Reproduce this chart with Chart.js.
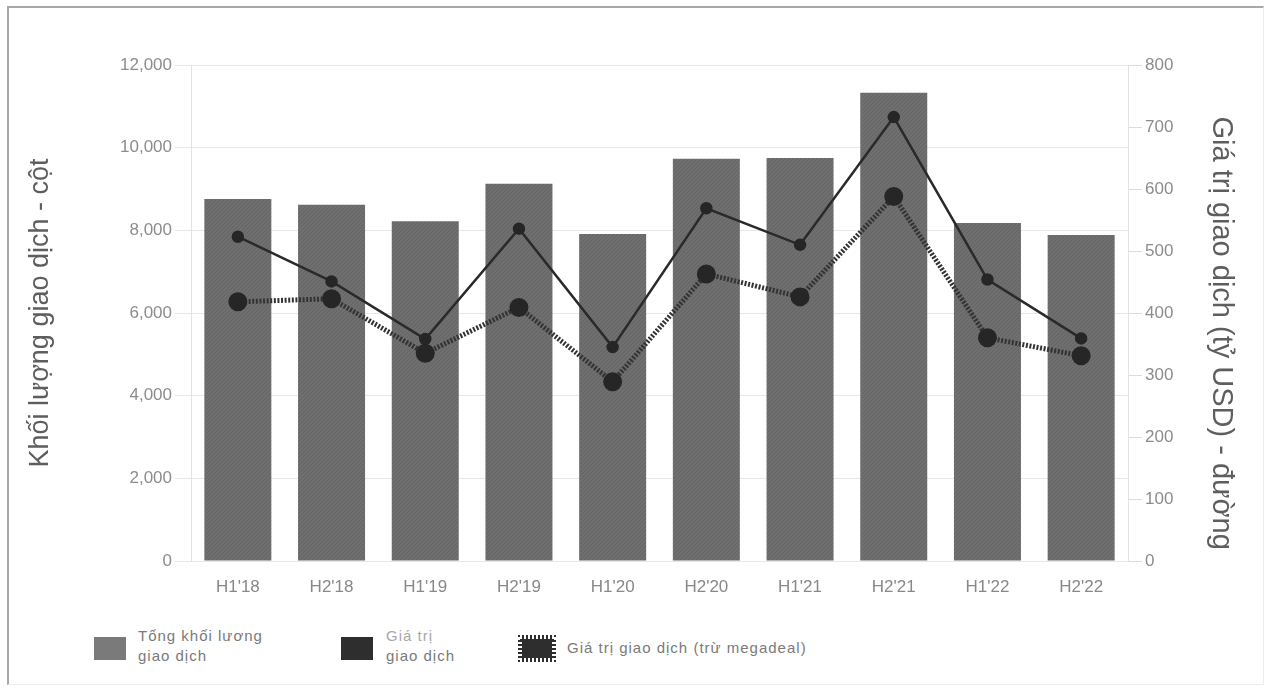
<!DOCTYPE html>
<html>
<head>
<meta charset="utf-8">
<script src="https://cdn.jsdelivr.net/npm/chart.js@4.4.1/dist/chart.umd.min.js"></script>
<style>
  html, body { margin: 0; padding: 0; background: #fff; }
  body { width: 1268px; height: 689px; position: relative; overflow: hidden; font-family: "Liberation Sans", Arial, sans-serif; }
  #frame { position: absolute; left: 7px; top: 6px; width: 1254px; height: 676px; border-left: 2px solid #a8a8a8; border-top: 2px solid #a8a8a8; border-right: 1px solid #eee; border-bottom: 1px solid #eee; }
  #wrap { position: absolute; left: 0; top: 0; width: 1268px; height: 600px; }
  .lg-box { position: absolute; top: 637px; width: 32px; height: 23px; }
  .lg-text { position: absolute; font-size: 15px; letter-spacing: 1px; line-height: 20px; color: #7a7a7a; }
</style>
</head>
<body>
<div id="frame"></div>
<div id="wrap"><canvas id="chart"></canvas></div>

<div class="lg-box" style="left:94px; background:#7a7a7a;"></div>
<div class="lg-text" style="left:138px; top:626px;">Tổng khối lương<br>giao dịch</div>
<div class="lg-box" style="left:341px; background:#2e2e2e;"></div>
<div class="lg-text" style="left:386px; top:626px;"><span style="color:#a8a8a8">Giá trị</span><br>giao dịch</div>
<div class="lg-box" style="left:520px; width:34px; background:#2e2e2e; border:2px dotted #fff; box-sizing:border-box; outline:2px dotted #2e2e2e;"></div>
<div class="lg-text" style="left:567px; top:638px;">Giá trị giao dịch (trừ megadeal)</div>

<script>
// Data
const periods = ["H1'18", "H2'18", "H1'19", "H2'19", "H1'20", "H2'20", "H1'21", "H2'21", "H1'22", "H2'22"];
const volume = [8760, 8620, 8220, 9130, 7910, 9730, 9750, 11330, 8180, 7890];
const value = [523, 451, 358, 536, 345, 569, 510, 716, 454, 359];
const valueExMega = [418, 423, 335, 409, 289, 463, 426, 588, 360, 331];

const leftTitle = 'Khối lượng giao dịch - cột';
// leading spaces nudge the right title down a little, as in the original
const rightTitle = '     Giá trị giao dịch (tỷ USD) - đường';

// fine diagonal texture, like the printed bars
function barPattern() {
    const c = document.createElement('canvas');
    c.width = 4; c.height = 4;
    const g = c.getContext('2d');
    g.fillStyle = '#6f6f6f';
    g.fillRect(0, 0, 4, 4);
    g.strokeStyle = '#646464';
    g.lineWidth = 1;
    g.beginPath();
    g.moveTo(0, 4); g.lineTo(4, 0);
    g.stroke();
    return g.createPattern(c, 'repeat');
}

const fontFamily = '"Liberation Sans", Arial, sans-serif';
const tickFont = { family: fontFamily, size: 17 };

const ctx = document.getElementById('chart').getContext('2d');
new Chart(ctx, {
    data: {
        labels: periods,
        datasets: [
            {
                type: 'line',
                label: 'Giá trị giao dịch',
                data: value,
                yAxisID: 'y1',
                order: 0,
                borderColor: '#2a2a2a',
                borderWidth: 2.5,
                pointRadius: 5,
                pointBackgroundColor: '#262626',
                pointBorderColor: '#262626',
                tension: 0
            },
            {
                type: 'line',
                label: 'Giá trị giao dịch (trừ megadeal)',
                data: valueExMega,
                yAxisID: 'y1',
                order: 1,
                borderColor: '#333333',
                borderWidth: 5,
                borderDash: [2, 1.6],
                borderCapStyle: 'butt',
                pointRadius: 7,
                pointBackgroundColor: '#262626',
                pointBorderColor: '#262626',
                tension: 0
            },
            {
                type: 'bar',
                label: 'Tổng khối lương giao dịch',
                data: volume,
                yAxisID: 'y',
                order: 2,
                backgroundColor: barPattern(),
                barPercentage: 0.715,
                categoryPercentage: 1
            }
        ]
    },
    options: {
        responsive: true,
        maintainAspectRatio: false,
        animation: false,
        layout: { padding: { left: 20, right: 26, top: 65, bottom: 0 } },
        plugins: {
            legend: { display: false },
            tooltip: { enabled: false }
        },
        scales: {
            x: {
                grid: { display: false, drawTicks: false },
                border: { display: false },
                ticks: { color: '#888888', font: tickFont, padding: 16, maxRotation: 0 },
                afterFit: (s) => { s.height = 39; }
            },
            y: {
                position: 'left',
                min: 0,
                max: 12000,
                grid: { color: '#e8e8e8', tickLength: 16, lineWidth: 1 },
                border: { color: '#e2e2e2' },
                ticks: {
                    stepSize: 2000,
                    color: '#8c8c8c',
                    font: tickFont,
                    padding: 3,
                    callback: (v) => v.toLocaleString('en-US')
                },
                title: { display: true, text: leftTitle, color: '#5e5e5e', font: { family: fontFamily, size: 27 }, padding: { top: 4 } },
                afterFit: (s) => { s.width = 171; }
            },
            y1: {
                position: 'right',
                min: 0,
                max: 800,
                grid: { drawOnChartArea: false, color: '#dcdcdc', tickLength: 14 },
                border: { color: '#e2e2e2' },
                ticks: { stepSize: 100, color: '#8c8c8c', font: tickFont, padding: 3 },
                title: { display: true, text: rightTitle, color: '#5e5e5e', font: { family: fontFamily, size: 29 }, padding: { top: 4 } },
                afterFit: (s) => { s.width = 114; }
            }
        }
    }
});
</script>
</body>
</html>
